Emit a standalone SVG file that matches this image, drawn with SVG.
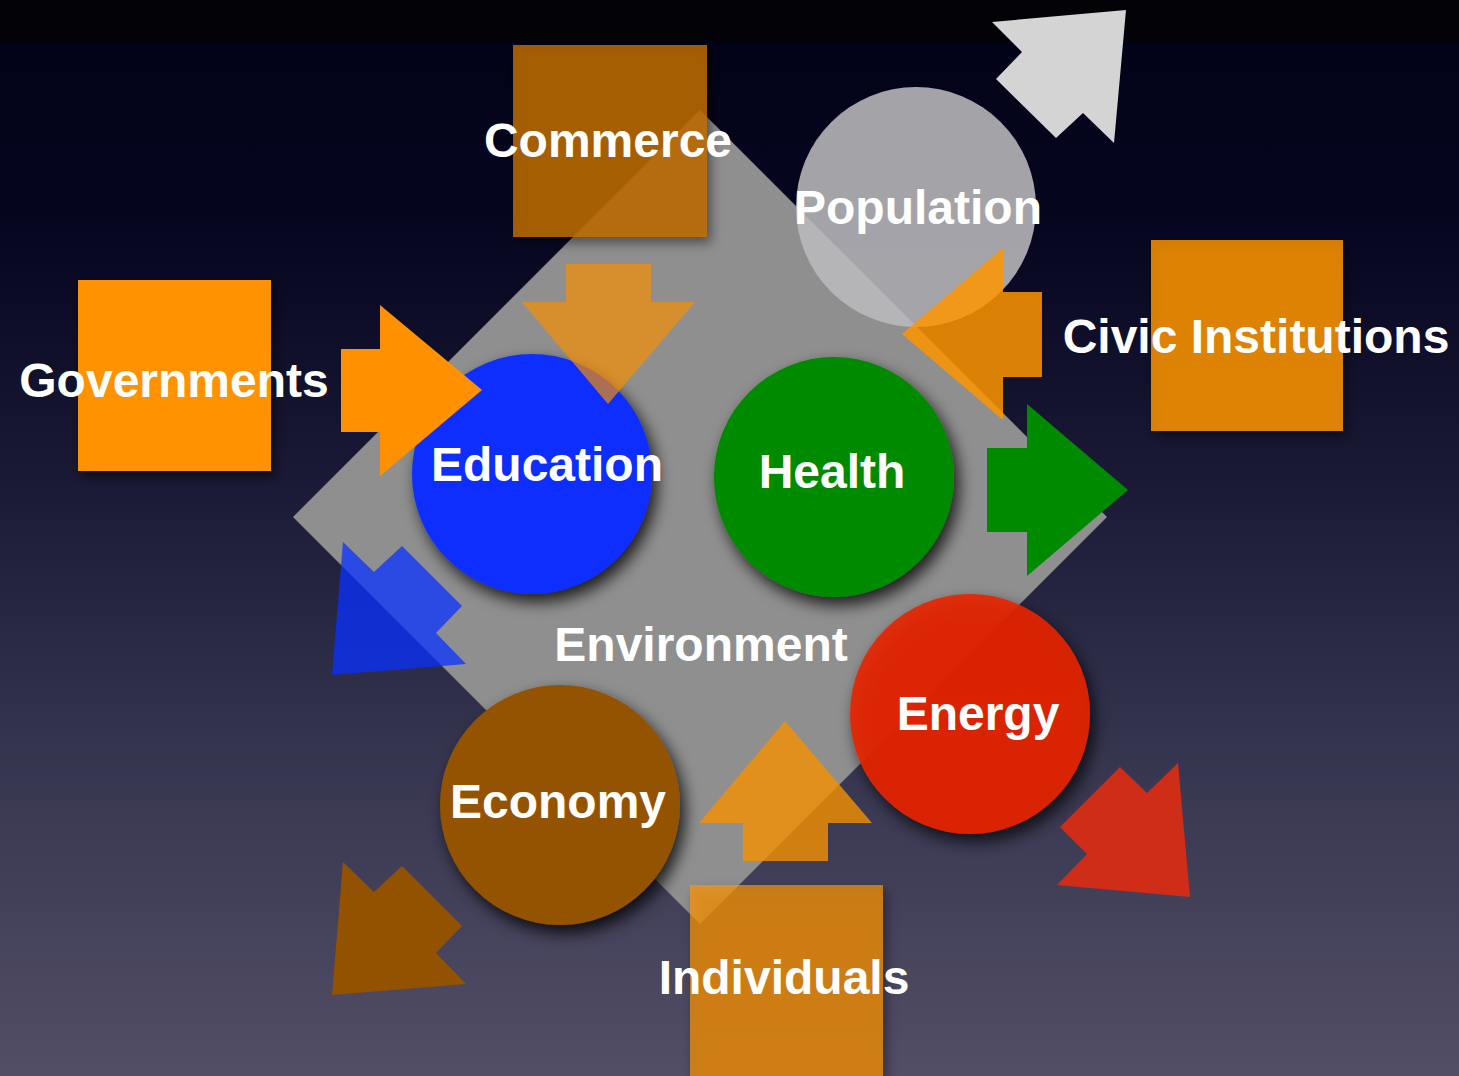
<svg xmlns="http://www.w3.org/2000/svg" width="1459" height="1076" viewBox="0 0 1459 1076">
<defs>
<linearGradient id="bg" x1="0" y1="0" x2="0" y2="1076" gradientUnits="userSpaceOnUse">
<stop offset="0" stop-color="#020216"/>
<stop offset="0.2" stop-color="#05051f"/>
<stop offset="0.45" stop-color="#1b1a36"/>
<stop offset="0.7" stop-color="#36354f"/>
<stop offset="1" stop-color="#524e66"/>
</linearGradient>
<filter id="sh" x="-30%" y="-30%" width="160%" height="160%">
<feDropShadow dx="5" dy="8" stdDeviation="8" flood-color="#000" flood-opacity="0.8"/>
</filter>
<filter id="shs" x="-30%" y="-30%" width="160%" height="160%">
<feDropShadow dx="4" dy="6" stdDeviation="6" flood-color="#000" flood-opacity="0.55"/>
</filter>
</defs>
<style>
.t{font-family:"Liberation Sans",Arial,sans-serif;font-weight:bold;font-size:48px;fill:#fff;text-anchor:middle}
</style>
<rect width="1459" height="1076" fill="url(#bg)"/>
<rect width="1459" height="42" fill="#030307"/>

<g id="environment">
<polygon points="700,110 1107,517 700,924 293,517" fill="#8f8f8f"/>
<text class="t" x="701" y="661">Environment</text>
</g>

<g id="commerce">
<rect x="513" y="45" width="194" height="192" fill="#c06e00" fill-opacity="0.82" filter="url(#shs)"/>
<text class="t" x="608" y="157">Commerce</text>
</g>

<g id="governments">
<rect x="78" y="280" width="193" height="191" fill="#ff9200" filter="url(#shs)"/>
<text class="t" x="174" y="397">Governments</text>
</g>

<g id="civic-institutions">
<rect x="1151" y="240" width="192" height="191" fill="#ff9500" fill-opacity="0.82" filter="url(#shs)"/>
<text class="t" x="1256" y="353">Civic Institutions</text>
</g>

<g id="individuals">
<rect x="690" y="885" width="193" height="200" fill="#ff9500" fill-opacity="0.68" filter="url(#shs)"/>
<text class="t" x="784" y="994">Individuals</text>
</g>

<g id="education">
<circle cx="532" cy="474" r="120" fill="#0a2fff" filter="url(#sh)"/>
<text class="t" x="547" y="481">Education</text>
</g>

<g id="health">
<circle cx="834" cy="477" r="120" fill="#008a00" filter="url(#sh)"/>
<text class="t" x="832" y="488">Health</text>
</g>

<g id="population">
<circle cx="916" cy="207" r="120" fill="#bbbbbd" fill-opacity="0.87"/>
<text class="t" x="918" y="224">Population</text>
</g>

<g id="energy">
<circle cx="970" cy="714" r="120" fill="#e52600" fill-opacity="0.9" filter="url(#sh)"/>
<text class="t" x="978" y="730">Energy</text>
</g>

<g id="economy">
<circle cx="560" cy="805" r="120" fill="#935200" filter="url(#sh)"/>
<text class="t" x="558" y="818">Economy</text>
</g>

<g id="connectors">
<polygon points="566,264 651,264 651,302 695,302 608,404 522,302 566,302" fill="#f98f00" fill-opacity="0.68"/>
<polygon points="341,349 380,349 380,305 482,390 380,476 380,432 341,432" fill="#ff9100"/>
<polygon points="1042,292 1042,377 1003,377 1003,420 902,334 1003,248 1003,292" fill="#ff9500" fill-opacity="0.85"/>
<polygon points="987,448 1027,448 1027,404 1128,490 1027,576 1027,532 987,532" fill="#008a00"/>
<polygon points="785,721 872,823 828,823 828,861 743,861 743,823 699,823" fill="#f59000" fill-opacity="0.8"/>
<polygon points="1126,10 1114,143 1083,113 1056,138 996,79 1022,52 992,22" fill="#d4d4d4"/>
<polygon points="343,542 374,572 402,546 462,606 436,633 466,664 332,675" fill="#0a31ff" fill-opacity="0.75"/>
<polygon points="343,862 374,892 402,866 462,926 436,953 466,984 332,995" fill="#925200"/>
<polygon points="1190,897 1057,885 1087,854 1060,827 1120,767 1147,793 1178,763" fill="#cf2d17"/>
</g>
</svg>
